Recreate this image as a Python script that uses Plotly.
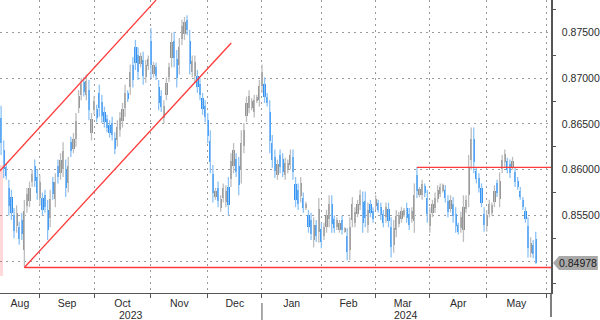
import numpy as np
import pandas as pd
import plotly.graph_objects as go

# ---------------- data ----------------
start_date = "2023-08-11"
n_bars = 208
dates = pd.bdate_range(start_date, periods=n_bars)

open_ = [
    0.8656, 0.8622, 0.8603, 0.8580, 0.8570, 0.8550, 0.8538, 0.8537, 0.8545, 0.8512,
    0.8560, 0.8566, 0.8586, 0.8604, 0.8592, 0.8569, 0.8569, 0.8572, 0.8556, 0.8547,
    0.8586, 0.8568, 0.8604, 0.8596, 0.8601, 0.8601, 0.8585, 0.8630, 0.8623, 0.8634,
    0.8668, 0.8682, 0.8696, 0.8682, 0.8687, 0.8640, 0.8665, 0.8666, 0.8684, 0.8674,
    0.8663, 0.8655, 0.8649, 0.8651, 0.8635, 0.8632, 0.8643, 0.8653, 0.8667, 0.8684,
    0.8690, 0.8715, 0.8734, 0.8725, 0.8716, 0.8720, 0.8701, 0.8713, 0.8741, 0.8705,
    0.8712, 0.8690, 0.8681, 0.8657, 0.8682, 0.8701, 0.8722, 0.8741, 0.8721, 0.8714,
    0.8743, 0.8748, 0.8764, 0.8741, 0.8707, 0.8703, 0.8703, 0.8694, 0.8678, 0.8670,
    0.8654, 0.8631, 0.8595, 0.8570, 0.8580, 0.8558, 0.8569, 0.8565, 0.8581, 0.8590,
    0.8604, 0.8612, 0.8604, 0.8600, 0.8626, 0.8659, 0.8668, 0.8668, 0.8663, 0.8675,
    0.8676, 0.8692, 0.8694, 0.8680, 0.8663, 0.8629, 0.8614, 0.8594, 0.8616, 0.8612,
    0.8594, 0.8600, 0.8605, 0.8614, 0.8584, 0.8578, 0.8571, 0.8569, 0.8558, 0.8550,
    0.8545, 0.8523, 0.8539, 0.8532, 0.8535, 0.8528, 0.8537, 0.8546, 0.8562, 0.8546,
    0.8537, 0.8534, 0.8545, 0.8532, 0.8527, 0.8512, 0.8545, 0.8542, 0.8552, 0.8561,
    0.8565, 0.8566, 0.8539, 0.8563, 0.8555, 0.8560, 0.8564, 0.8559, 0.8551, 0.8548,
    0.8557, 0.8537, 0.8518, 0.8534, 0.8541, 0.8546, 0.8550, 0.8558, 0.8552, 0.8546,
    0.8544, 0.8594, 0.8572, 0.8572, 0.8582, 0.8569, 0.8538, 0.8553, 0.8558, 0.8568,
    0.8573, 0.8577, 0.8578, 0.8566, 0.8557, 0.8563, 0.8552, 0.8539, 0.8536, 0.8534,
    0.8557, 0.8572, 0.8611, 0.8634, 0.8599, 0.8591, 0.8580, 0.8552, 0.8538, 0.8552,
    0.8553, 0.8565, 0.8585, 0.8568, 0.8601, 0.8608, 0.8609, 0.8606, 0.8603, 0.8597,
    0.8588, 0.8577, 0.8567, 0.8555, 0.8538, 0.8509, 0.8518, 0.8524,
]
high = [
    0.8670, 0.8632, 0.8607, 0.8589, 0.8578, 0.8558, 0.8561, 0.8543, 0.8553, 0.8567,
    0.8580, 0.8587, 0.8600, 0.8611, 0.8600, 0.8594, 0.8575, 0.8578, 0.8567, 0.8578,
    0.8592, 0.8596, 0.8611, 0.8618, 0.8630, 0.8611, 0.8614, 0.8636, 0.8640, 0.8662,
    0.8687, 0.8700, 0.8701, 0.8704, 0.8698, 0.8662, 0.8680, 0.8671, 0.8693, 0.8682,
    0.8669, 0.8660, 0.8654, 0.8658, 0.8641, 0.8654, 0.8663, 0.8673, 0.8693, 0.8687,
    0.8715, 0.8723, 0.8742, 0.8734, 0.8728, 0.8729, 0.8720, 0.8725, 0.8755, 0.8718,
    0.8717, 0.8698, 0.8687, 0.8676, 0.8701, 0.8717, 0.8750, 0.8751, 0.8731, 0.8744,
    0.8764, 0.8767, 0.8769, 0.8753, 0.8725, 0.8725, 0.8709, 0.8700, 0.8684, 0.8676,
    0.8662, 0.8643, 0.8605, 0.8580, 0.8587, 0.8572, 0.8585, 0.8583, 0.8592, 0.8618,
    0.8629, 0.8618, 0.8614, 0.8643, 0.8651, 0.8680, 0.8687, 0.8678, 0.8682, 0.8682,
    0.8698, 0.8715, 0.8701, 0.8684, 0.8676, 0.8638, 0.8622, 0.8611, 0.8622, 0.8618,
    0.8613, 0.8611, 0.8622, 0.8622, 0.8592, 0.8585, 0.8592, 0.8575, 0.8565, 0.8556,
    0.8553, 0.8548, 0.8545, 0.8569, 0.8542, 0.8542, 0.8556, 0.8572, 0.8572, 0.8550,
    0.8548, 0.8545, 0.8550, 0.8537, 0.8536, 0.8548, 0.8570, 0.8559, 0.8567, 0.8578,
    0.8576, 0.8576, 0.8564, 0.8567, 0.8559, 0.8572, 0.8567, 0.8564, 0.8556, 0.8564,
    0.8564, 0.8548, 0.8545, 0.8556, 0.8554, 0.8559, 0.8558, 0.8564, 0.8558, 0.8559,
    0.8585, 0.8603, 0.8581, 0.8589, 0.8585, 0.8578, 0.8559, 0.8567, 0.8575, 0.8583,
    0.8585, 0.8585, 0.8583, 0.8572, 0.8572, 0.8570, 0.8559, 0.8542, 0.8554, 0.8572,
    0.8572, 0.8616, 0.8646, 0.8646, 0.8603, 0.8596, 0.8585, 0.8559, 0.8556, 0.8567,
    0.8564, 0.8583, 0.8589, 0.8597, 0.8616, 0.8622, 0.8613, 0.8611, 0.8614, 0.8603,
    0.8592, 0.8581, 0.8570, 0.8559, 0.8548, 0.8526, 0.8523, 0.8532,
]
low = [
    0.8616, 0.8591, 0.8589, 0.8550, 0.8545, 0.8525, 0.8531, 0.8518, 0.8523, 0.8494,
    0.8553, 0.8559, 0.8581, 0.8581, 0.8567, 0.8561, 0.8550, 0.8553, 0.8523, 0.8537,
    0.8567, 0.8559, 0.8585, 0.8589, 0.8592, 0.8570, 0.8575, 0.8614, 0.8618, 0.8625,
    0.8662, 0.8676, 0.8680, 0.8676, 0.8654, 0.8632, 0.8660, 0.8652, 0.8658, 0.8651,
    0.8646, 0.8641, 0.8635, 0.8632, 0.8617, 0.8625, 0.8636, 0.8646, 0.8658, 0.8674,
    0.8682, 0.8690, 0.8709, 0.8698, 0.8712, 0.8693, 0.8695, 0.8709, 0.8700, 0.8701,
    0.8698, 0.8665, 0.8663, 0.8651, 0.8676, 0.8696, 0.8712, 0.8712, 0.8690, 0.8704,
    0.8736, 0.8742, 0.8747, 0.8704, 0.8701, 0.8695, 0.8684, 0.8676, 0.8660, 0.8652,
    0.8629, 0.8596, 0.8564, 0.8567, 0.8559, 0.8554, 0.8564, 0.8559, 0.8550, 0.8581,
    0.8596, 0.8592, 0.8572, 0.8585, 0.8618, 0.8652, 0.8662, 0.8665, 0.8657, 0.8673,
    0.8669, 0.8684, 0.8673, 0.8669, 0.8618, 0.8602, 0.8591, 0.8589, 0.8596, 0.8592,
    0.8589, 0.8596, 0.8600, 0.8589, 0.8559, 0.8556, 0.8564, 0.8553, 0.8556, 0.8531,
    0.8523, 0.8515, 0.8521, 0.8520, 0.8514, 0.8523, 0.8531, 0.8537, 0.8531, 0.8531,
    0.8534, 0.8531, 0.8529, 0.8531, 0.8501, 0.8501, 0.8537, 0.8537, 0.8548, 0.8556,
    0.8531, 0.8537, 0.8531, 0.8548, 0.8542, 0.8556, 0.8553, 0.8545, 0.8537, 0.8542,
    0.8537, 0.8504, 0.8509, 0.8526, 0.8537, 0.8542, 0.8548, 0.8542, 0.8534, 0.8542,
    0.8531, 0.8569, 0.8570, 0.8567, 0.8570, 0.8542, 0.8531, 0.8548, 0.8553, 0.8564,
    0.8570, 0.8575, 0.8564, 0.8548, 0.8553, 0.8542, 0.8531, 0.8529, 0.8531, 0.8521,
    0.8553, 0.8559, 0.8600, 0.8596, 0.8585, 0.8575, 0.8559, 0.8532, 0.8532, 0.8548,
    0.8550, 0.8559, 0.8570, 0.8559, 0.8596, 0.8603, 0.8596, 0.8591, 0.8600, 0.8581,
    0.8578, 0.8567, 0.8556, 0.8542, 0.8504, 0.8504, 0.8503, 0.8497,
]
close = [
    0.8629, 0.8601, 0.8593, 0.8560, 0.8553, 0.8533, 0.8553, 0.8524, 0.8530, 0.8555,
    0.8573, 0.8580, 0.8595, 0.8588, 0.8575, 0.8586, 0.8556, 0.8559, 0.8534, 0.8568,
    0.8573, 0.8587, 0.8592, 0.8611, 0.8620, 0.8580, 0.8604, 0.8620, 0.8634, 0.8653,
    0.8681, 0.8694, 0.8685, 0.8697, 0.8665, 0.8655, 0.8675, 0.8657, 0.8667, 0.8659,
    0.8652, 0.8646, 0.8640, 0.8638, 0.8623, 0.8647, 0.8656, 0.8666, 0.8684, 0.8677,
    0.8707, 0.8698, 0.8717, 0.8707, 0.8724, 0.8702, 0.8714, 0.8721, 0.8714, 0.8714,
    0.8703, 0.8673, 0.8669, 0.8670, 0.8695, 0.8712, 0.8740, 0.8722, 0.8700, 0.8734,
    0.8757, 0.8761, 0.8753, 0.8716, 0.8719, 0.8718, 0.8690, 0.8682, 0.8666, 0.8658,
    0.8637, 0.8608, 0.8574, 0.8577, 0.8566, 0.8568, 0.8580, 0.8577, 0.8561, 0.8609,
    0.8621, 0.8598, 0.8583, 0.8629, 0.8643, 0.8673, 0.8681, 0.8675, 0.8676, 0.8680,
    0.8691, 0.8707, 0.8680, 0.8673, 0.8631, 0.8611, 0.8599, 0.8606, 0.8603, 0.8598,
    0.8607, 0.8607, 0.8616, 0.8597, 0.8567, 0.8563, 0.8585, 0.8558, 0.8563, 0.8537,
    0.8530, 0.8540, 0.8527, 0.8557, 0.8521, 0.8537, 0.8550, 0.8563, 0.8541, 0.8536,
    0.8545, 0.8542, 0.8534, 0.8536, 0.8510, 0.8537, 0.8562, 0.8554, 0.8563, 0.8572,
    0.8542, 0.8547, 0.8556, 0.8553, 0.8546, 0.8568, 0.8556, 0.8550, 0.8542, 0.8559,
    0.8544, 0.8515, 0.8536, 0.8549, 0.8550, 0.8555, 0.8556, 0.8547, 0.8540, 0.8555,
    0.8572, 0.8577, 0.8579, 0.8584, 0.8574, 0.8551, 0.8552, 0.8562, 0.8569, 0.8578,
    0.8581, 0.8583, 0.8569, 0.8554, 0.8567, 0.8549, 0.8538, 0.8532, 0.8548, 0.8559,
    0.8567, 0.8603, 0.8634, 0.8608, 0.8590, 0.8580, 0.8564, 0.8539, 0.8550, 0.8563,
    0.8561, 0.8577, 0.8575, 0.8588, 0.8611, 0.8617, 0.8600, 0.8596, 0.8610, 0.8586,
    0.8581, 0.8570, 0.8559, 0.8546, 0.8514, 0.8520, 0.8508, 0.84978,
]
last_price = 0.84978

month_names = ["Aug", "Sep", "Oct", "Nov", "Dec", "Jan", "Feb", "Mar", "Apr", "May"]
year_names = ["2023", "2024"]
price_ticks = [0.850, 0.855, 0.860, 0.865, 0.870, 0.875]
price_labels = ["", "0.85500", "0.86000", "0.86500", "0.87000", "0.87500"]
minor_price_ticks = [0.8475, 0.8525, 0.8575, 0.8625, 0.8675, 0.8725, 0.8775]

# hand-drawn study lines: (bar index, price)
upper_channel_x = [-1.0, 60.0]
upper_channel_y = [0.85971, 0.87855]
lower_channel_x = [9.0, 89.1]
lower_channel_y = [0.8493, 0.87386]
support_start = 9.0
support_level = 0.8493
resistance_start = 161.0
resistance_level = 0.86025

# ---------------- layout constants ----------------
x_range = [-0.43, 212.9]
y_range = [0.84651, 0.87856]
plot_w, plot_h = 553, 293
FONT = "Liberation Sans, Arial, sans-serif"
TXT = "#2b2b2b"
GRID = "#9a9a9a"
RED = "#ff3a3a"

x = np.arange(n_bars)
o = np.array(open_); h = np.array(high); l = np.array(low); c = np.array(close)
up = c >= o

ext = pd.bdate_range(start_date, periods=n_bars + 10)
boundaries = [i for i in range(1, len(ext)) if ext[i].month != ext[i - 1].month]
edges = [x_range[0]] + boundaries
month_mid = [(edges[i] + edges[i + 1]) / 2 for i in range(len(month_names))]
jan_idx = boundaries[4]

fig = go.Figure()

# wicks
fig.add_trace(go.Ohlc(
    x=x, open=o, high=h, low=l, close=c, tickwidth=0,
    increasing=dict(line=dict(color="#bdbdbd", width=1.3)),
    decreasing=dict(line=dict(color="#8cc2f6", width=1.3)),
    hoverinfo="skip", showlegend=False,
))
# bodies
body_base = np.minimum(o, c)
body_h = np.maximum(np.abs(c - o), 0.00004)
fig.add_trace(go.Bar(
    x=x, y=body_h, base=body_base, width=0.85,
    marker=dict(color=np.where(up, "#8c8c8c", "#2b8df0"), line=dict(width=0)),
    hoverinfo="skip", showlegend=False,
))

# red study lines
def red_line(xs, ys):
    fig.add_trace(go.Scatter(x=xs, y=ys, mode="lines", line=dict(color=RED, width=1.3),
                             hoverinfo="skip", showlegend=False))

red_line(upper_channel_x, upper_channel_y)
red_line(lower_channel_x, lower_channel_y)
red_line([support_start, x_range[1]], [support_level, support_level])
red_line([resistance_start, x_range[1]], [resistance_level, resistance_level])

# tick triangles on the price axis
tri_x = x_range[0] + 557 / plot_w * (x_range[1] - x_range[0])
fig.add_trace(go.Scatter(
    x=[tri_x] * (len(price_ticks) - 1), y=price_ticks[1:], mode="markers",
    marker=dict(symbol="triangle-right", size=6, color="#1a1a1a"),
    cliponaxis=False, hoverinfo="skip", showlegend=False,
))

# last price tag
half = 7 * (y_range[1] - y_range[0]) / plot_h
px = lambda p: p / plot_w
fig.add_shape(type="path", xref="paper", yref="y", layer="above",
              path=(f"M {px(555)},{last_price} L {px(561)},{last_price + half} "
                    f"L {px(600)},{last_price + half} L {px(600)},{last_price - half} "
                    f"L {px(561)},{last_price - half} Z"),
              fillcolor="#a9a9a9", line=dict(width=0))
fig.add_annotation(x=px(580.5), y=last_price, xref="paper", yref="y",
                   text=f"{last_price:.5f}", showarrow=False,
                   font=dict(family=FONT, size=10.5, color="#1a1a1a"),
                   xanchor="center", yanchor="middle")

# year labels and separator
year_edges = [x_range[0], jan_idx, x_range[1]]
for i, yr in enumerate(year_names):
    fig.add_annotation(x=(year_edges[i] + year_edges[i + 1]) / 2, y=-21.5 / plot_h,
                       xref="x", yref="paper", text=yr, showarrow=False,
                       font=dict(family=FONT, size=10.5, color=TXT),
                       xanchor="center", yanchor="middle")
fig.add_shape(type="line", xref="x", yref="paper", x0=jan_idx, x1=jan_idx,
              y0=-10 / plot_h, y1=-27 / plot_h, line=dict(color="#555555", width=1))
# axis line extension below the plot
fig.add_shape(type="line", xref="paper", yref="paper", x0=1, x1=1,
              y0=0, y1=-24 / plot_h, line=dict(color="#555555", width=1.5))
# faint marker strip at the left edge
fig.add_shape(type="line", xref="paper", yref="paper", x0=1.5 / plot_w, x1=1.5 / plot_w,
              y0=(plot_h - 165) / plot_h, y1=(plot_h - 276) / plot_h,
              line=dict(color="rgba(255,80,80,0.22)", width=3))

fig.update_layout(
    width=600, height=320,
    margin=dict(l=0, r=600 - plot_w, t=0, b=320 - plot_h),
    paper_bgcolor="white", plot_bgcolor="white",
    showlegend=False, bargap=0, barmode="overlay",
    font=dict(family=FONT, size=10.5, color=TXT),
    xaxis=dict(
        range=x_range, rangeslider=dict(visible=False),
        tickmode="array", tickvals=month_mid, ticktext=month_names,
        ticks="", showgrid=False, zeroline=False,
        showline=True, linecolor="#555555", linewidth=1,
        tickfont=dict(family=FONT, size=10.5, color=TXT),
        minor=dict(tickmode="array", tickvals=boundaries, ticks="outside", ticklen=4,
                   tickcolor="#555555", showgrid=True, gridcolor=GRID,
                   griddash="2px,4px", gridwidth=1),
    ),
    yaxis=dict(
        range=y_range, side="right",
        tickmode="array", tickvals=price_ticks, ticktext=price_labels,
        ticks="outside", ticklen=7, tickcolor="rgba(0,0,0,0)",
        showgrid=True, gridcolor=GRID, griddash="2px,4px", gridwidth=1,
        zeroline=False, showline=True, linecolor="#555555", linewidth=1.5,
        tickfont=dict(family=FONT, size=10.5, color=TXT),
        minor=dict(tickmode="array", tickvals=minor_price_ticks, ticks="outside",
                   ticklen=3, tickcolor="#555555", showgrid=False),
    ),
)

fig.write_html("out.html")
